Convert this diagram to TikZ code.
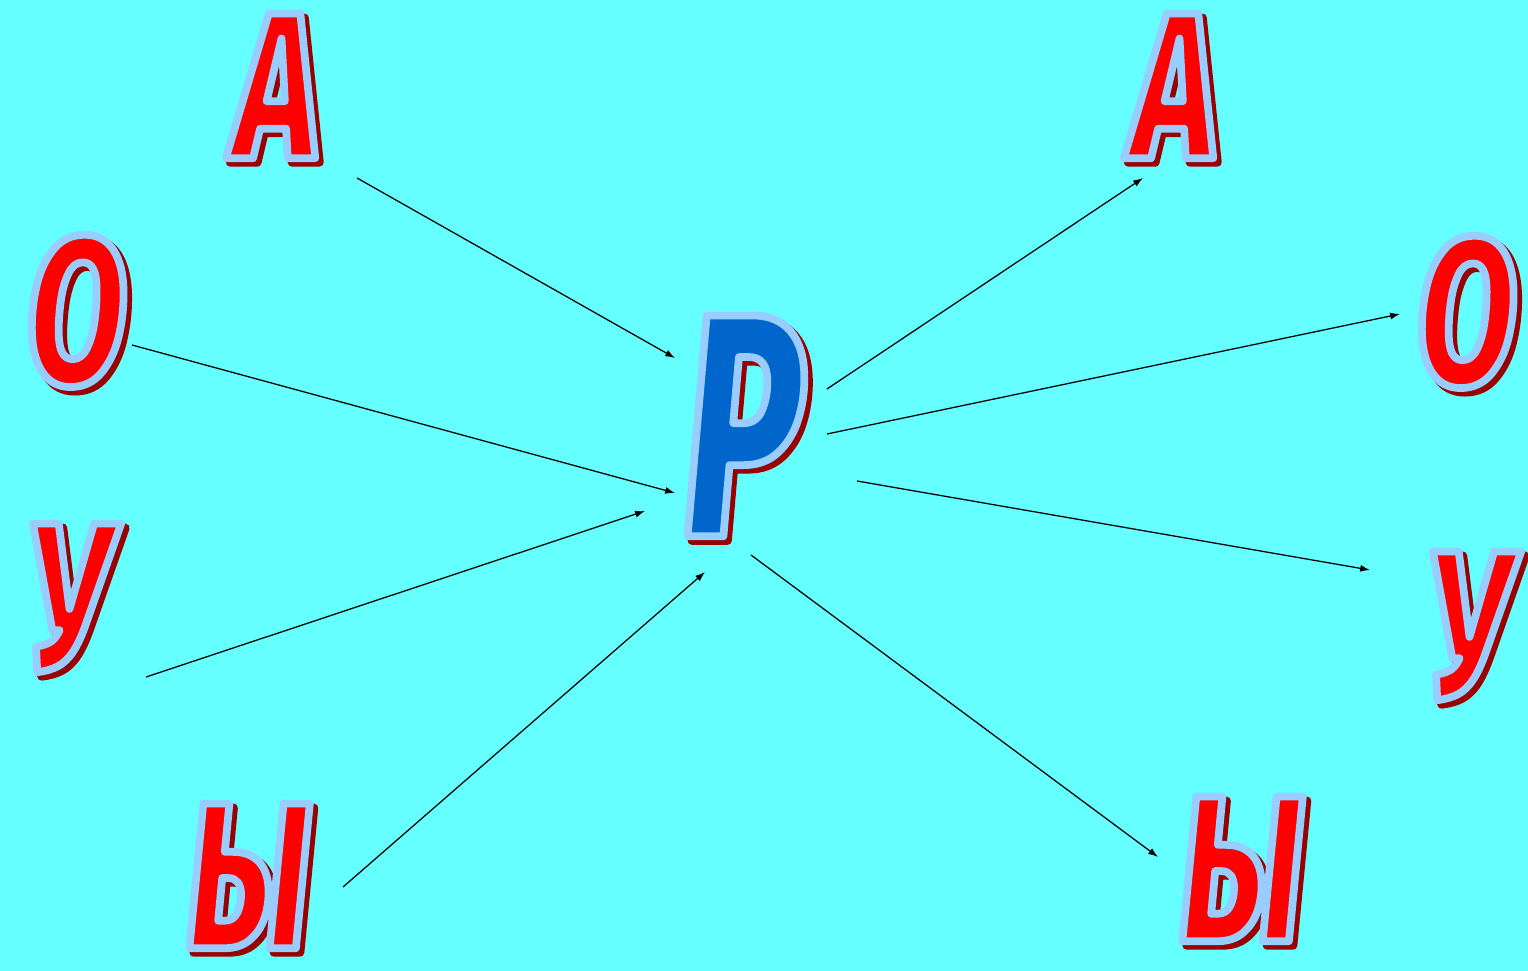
\documentclass[tikz,border=0pt]{standalone}
\usepackage{fontspec}
\IfFontExistsTF{Noto Sans Black Italic}
  {\def\lettername{Noto Sans Black Italic}}
  {\IfFontExistsTF{Fira Sans ExtraBold Italic}
    {\def\lettername{Fira Sans ExtraBold Italic}}
    {\IfFontExistsTF{Lato Black Italic}
      {\def\lettername{Lato Black Italic}}
      {\def\lettername{DejaVu Sans Bold Oblique}}}}
\newfontfamily\letterfont{\lettername}[FakeStretch=0.69]
\newfontfamily\centrefont{\lettername}[FakeStretch=0.62]
\usetikzlibrary{arrows.meta}
\definecolor{sky}{HTML}{66FFFF}
\definecolor{letterred}{HTML}{FF0000}
\definecolor{letterblue}{HTML}{0066CC}
\definecolor{shadowred}{HTML}{990000}
% outlined letter with a shadow: #1 fill colour, #2 letter
\newcommand\glyph[2]{%
  \rlap{\kern3pt\raisebox{-3pt}{\color{shadowred}%
    \special{pdf:literal direct 2 Tr 6 w 1 j 0.6 0 0 RG}#2\special{pdf:literal direct 0 Tr}}}%
  {\color{#1}\special{pdf:literal direct 2 Tr 5.5 w 1 j 0.6 0.8 1 RG}#2\special{pdf:literal direct 0 Tr}}}
\begin{document}
\begin{tikzpicture}[x=0.025cm, y=-0.025cm,
    letter/.style={inner sep=0pt, anchor=center,
      font=\letterfont\fontsize{148}{148}\selectfont},
    big/.style={inner sep=0pt, anchor=center,
      font=\centrefont\fontsize{226}{226}\selectfont},
    arr/.style={-{Latex[length=7pt, width=5pt]}, line width=0.9pt, black}]
  \fill[sky] (0,0) rectangle (1528,971);
  \useasboundingbox (0,0) rectangle (1528,971);
  % left column
  \node[letter] (aL) at (276,88)  {\glyph{letterred}{А}};
  \node[letter] (oL) at (76,313)  {\glyph{letterred}{О}};
  \node[letter] (uL) at (68,600)  {\glyph{letterred}{У}};
  \node[letter] (yL) at (248,878) {\glyph{letterred}{Ы}};
  % centre
  \node[big] (p) at (743,428) {\glyph{letterblue}{Р}};
  % right column
  \node[letter] (aR) at (1174,88)  {\glyph{letterred}{А}};
  \node[letter] (oR) at (1466,314) {\glyph{letterred}{О}};
  \node[letter] (uR) at (1468,628) {\glyph{letterred}{У}};
  \node[letter] (yR) at (1241,871) {\glyph{letterred}{Ы}};
  % arrow ends
  \coordinate (aLout) at (357,178);  \coordinate (pinA) at (675,358);
  \coordinate (oLout) at (132,345);  \coordinate (pinO) at (675,493);
  \coordinate (uLout) at (146,677);  \coordinate (pinU) at (645,511);
  \coordinate (yLout) at (343,887);  \coordinate (pinY) at (705,572);
  \coordinate (poutA) at (827,389);  \coordinate (aRin) at (1143,178);
  \coordinate (poutO) at (827,434);  \coordinate (oRin) at (1400,314);
  \coordinate (poutU) at (857,481);  \coordinate (uRin) at (1370,570);
  \coordinate (poutY) at (751,555);  \coordinate (yRin) at (1158,857);
  % into P
  \draw[arr] (aLout) -- (pinA);
  \draw[arr] (oLout) -- (pinO);
  \draw[arr] (uLout) -- (pinU);
  \draw[arr] (yLout) -- (pinY);
  % out of P
  \draw[arr] (poutA) -- (aRin);
  \draw[arr] (poutO) -- (oRin);
  \draw[arr] (poutU) -- (uRin);
  \draw[arr] (poutY) -- (yRin);
\end{tikzpicture}
\end{document}
